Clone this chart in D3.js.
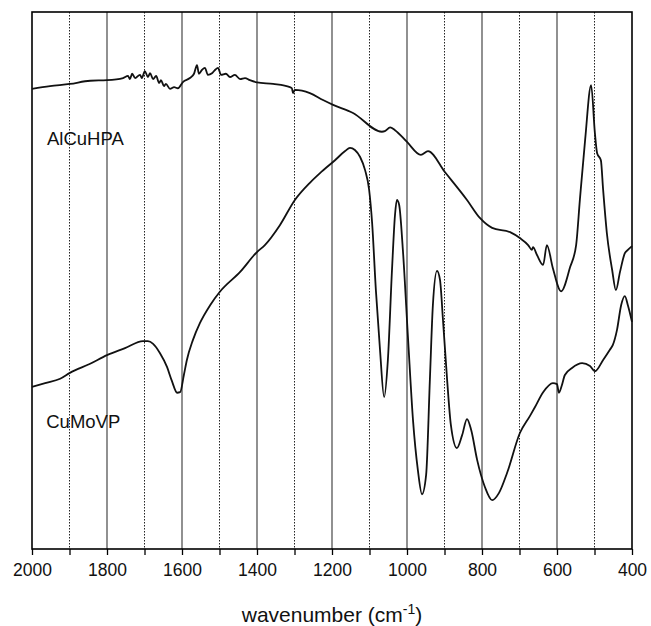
<!DOCTYPE html>
<html>
<head>
<meta charset="utf-8">
<script src="https://cdn.jsdelivr.net/npm/d3@7"></script>
<style>
body { margin: 0; background: #fff; }
text { font-family: "Liberation Sans", Arial, sans-serif; fill: #111; }
</style>
</head>
<body>
<script>
// wavenumber (cm-1) and transmittance (arbitrary units)
var alcuWave = [2000,1952,1899,1845,1800,1757,1744,1739,1733,1725,1712,1707,1699,1691,1685,1677,1669,1661,1656,1648,1643,1632,1621,1611,1597,1579,1568,1560,1555,1547,1539,1531,1520,1512,1504,1496,1483,1472,1459,1445,1432,1419,1400,1357,1312,1307,1304,1299,1259,1224,1197,1144,1067,1059,1045,1032,1000,963,944,899,840,805,773,725,699,677,667,664,653,637,627,611,589,565,549,539,525,509,499,493,483,477,467,453,443,432,419,411,400];
var alcuVal  = [85.7,86.2,86.6,87.2,87.3,87.7,88.1,87.5,88.5,87.7,88.3,87.7,89.0,87.9,88.6,87.5,88.1,86.8,87.3,86.2,86.6,85.7,86.0,85.8,87.0,87.7,88.5,90.1,88.5,89.2,89.6,88.3,88.6,89.2,89.6,88.3,88.5,87.9,88.3,87.5,87.7,87.3,86.9,86.6,86.0,85.8,84.9,85.5,84.9,83.6,82.7,81.2,77.7,77.8,78.5,78.0,75.8,73.4,74.1,70.2,65.0,61.6,59.8,59.0,57.9,56.6,55.7,56.2,54.7,52.9,56.6,52.3,48.0,52.5,56.6,65.0,76.2,86.4,77.5,73.7,72.4,66.9,58.8,52.0,48.2,51.6,55.1,55.7,56.4];

var cumoWave = [2000,1965,1925,1899,1845,1800,1752,1704,1691,1677,1659,1640,1627,1613,1605,1595,1587,1571,1552,1525,1499,1445,1400,1379,1339,1299,1259,1232,1192,1165,1152,1139,1125,1112,1101,1093,1083,1072,1061,1051,1040,1032,1027,1021,1011,997,984,971,960,949,939,931,920,912,904,893,883,867,853,840,829,813,792,773,755,733,699,672,659,637,611,600,595,587,579,560,533,512,499,477,459,451,440,429,419,411,400];
var cumoVal  = [30.2,30.9,31.7,32.8,34.5,36.1,37.4,38.7,38.7,38.2,36.5,33.9,31.3,29.1,29.2,32.4,35.2,38.9,42.1,45.4,47.9,51.6,55.3,56.6,60.3,65.0,68.2,70.0,72.4,74.1,74.7,74.3,73.0,70.6,66.9,60.7,48.2,37.1,28.3,35.2,52.0,62.2,65.0,64.1,55.7,38.9,24.0,14.7,10.2,13.8,31.5,45.4,51.8,50.1,42.6,31.5,23.1,18.8,21.2,24.2,22.2,16.6,11.5,9.1,10.4,14.2,21.6,24.8,26.4,29.2,30.9,30.7,29.1,30.5,32.4,33.7,34.6,34.1,33.1,35.2,37.1,38.0,40.8,45.4,47.1,45.4,42.3];

var seriesNames = ["AlCuHPA", "CuMoVP"];
var xTicks = [2000,1800,1600,1400,1200,1000,800,600,400];

var width = 651;
var height = 626;
var margin = {left:32, right:19, top:12, bottom:77};

var x = d3.scaleLinear()
        .domain([2000, 400]) // reversed, high wavenumber on the left
        .range([margin.left, width - margin.right]);
var y = d3.scaleLinear()
        .domain([0, 100])
        .range([height - margin.bottom, margin.top]);

var svg = d3.select("body")
        .append("svg")
        .attr("width", width)
        .attr("height", height);

// vertical grid: solid every 200, dotted in between
var grid = d3.range(1900, 400, -100);
svg.append("g").selectAll("line")
        .data(grid)
        .enter().append("line")
        .attr("x1", function(d){ return x(d); })
        .attr("x2", function(d){ return x(d); })
        .attr("y1", y(100))
        .attr("y2", y(0))
        .attr("stroke", function(d){ return d % 200 == 0 ? "#555" : "#222"; })
        .attr("stroke-width", function(d){ return d % 200 == 0 ? 1.3 : 1; })
        .attr("stroke-dasharray", function(d){ return d % 200 == 0 ? null : "1.5,1.5"; });

// x axis with minor ticks every 100
var xAxis = d3.axisBottom(x)
        .tickValues(d3.range(2000, 399, -100))
        .tickSize(6)
        .tickFormat(function(d){ return xTicks.indexOf(d) >= 0 ? d : ""; });
var axisG = svg.append("g")
        .attr("transform", "translate(0," + y(0) + ")")
        .call(xAxis);
axisG.select(".domain").remove();
axisG.selectAll(".tick line").attr("stroke", "#000").attr("stroke-width", 1.3);
axisG.selectAll(".tick text")
        .attr("y", 15)
        .style("font-size", "17.5px")
        .style("font-family", "'Liberation Sans', Arial, sans-serif")
        .attr("fill", "#111");

// frame
svg.append("rect")
        .attr("x", x(2000))
        .attr("y", y(100))
        .attr("width", x(400) - x(2000))
        .attr("height", y(0) - y(100))
        .attr("fill", "none")
        .attr("stroke", "#000")
        .attr("stroke-width", 1.6);

var line = d3.line()
        .x(function(d){ return x(d[0]); })
        .y(function(d){ return y(d[1]); })
        .curve(d3.curveMonotoneX);

var curves = [d3.zip(alcuWave, alcuVal), d3.zip(cumoWave, cumoVal)];
svg.append("g").selectAll("path")
        .data(curves)
        .enter().append("path")
        .attr("d", line)
        .attr("fill", "none")
        .attr("stroke", "#111")
        .attr("stroke-width", 1.8);

// series labels
var labelPos = [[1960, 75.2], [1962, 22.6]];
svg.append("g").selectAll("text")
        .data(seriesNames)
        .enter().append("text")
        .attr("x", function(d,i){ return x(labelPos[i][0]); })
        .attr("y", function(d,i){ return y(labelPos[i][1]); })
        .style("font-size", "18.5px")
        .text(function(d){ return d; });

// axis title
var title = svg.append("text")
        .attr("x", (x(2000) + x(400)) / 2)
        .attr("y", 622)
        .attr("text-anchor", "middle")
        .style("font-size", "21px");
title.append("tspan").text("wavenumber (cm");
title.append("tspan").attr("dy", -8).style("font-size", "14px").text("-1");
title.append("tspan").attr("dy", 8).text(")");
</script>
</body>
</html>
